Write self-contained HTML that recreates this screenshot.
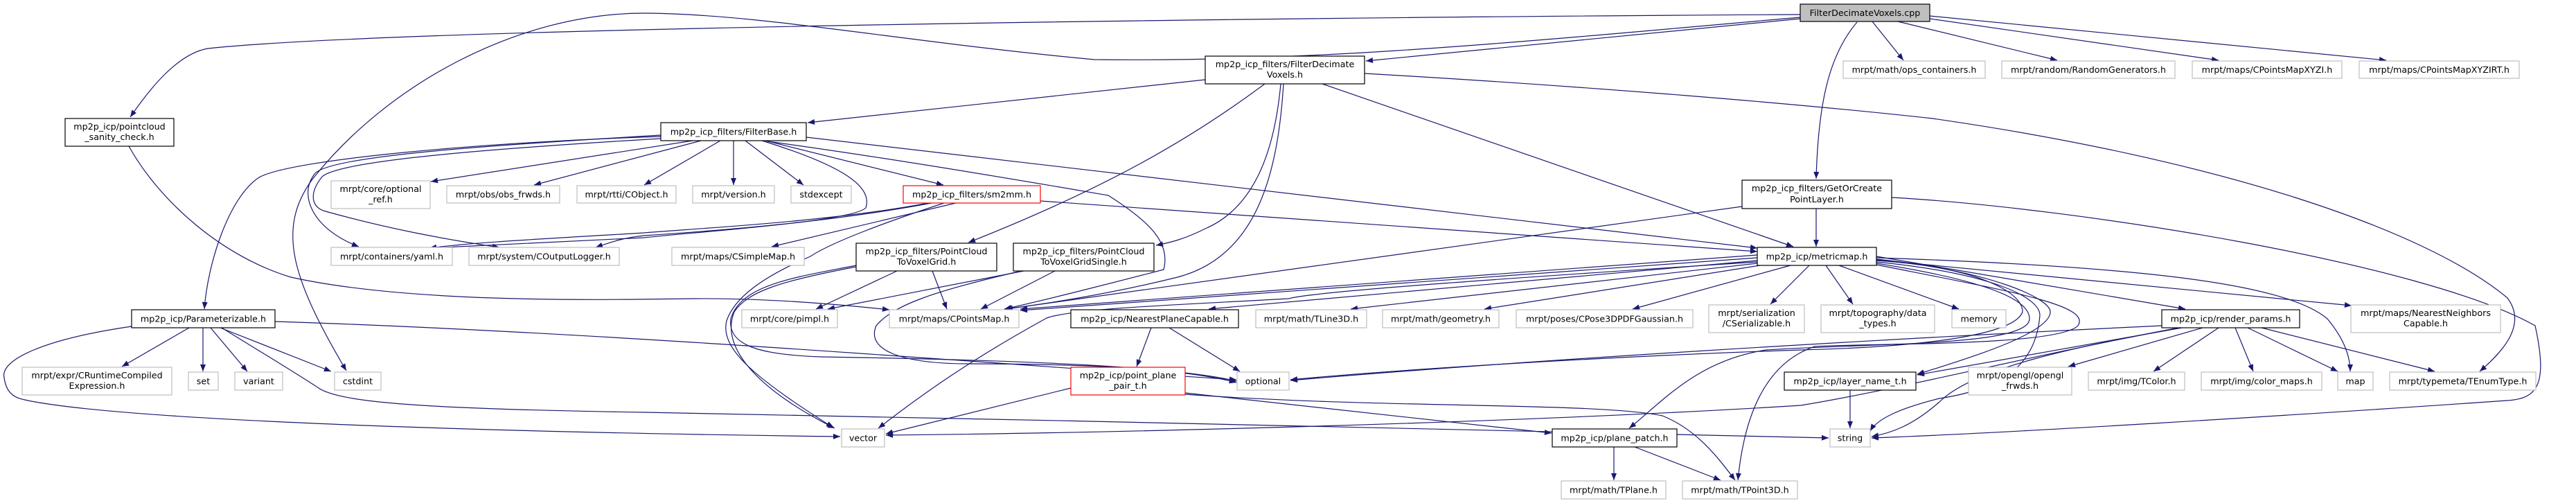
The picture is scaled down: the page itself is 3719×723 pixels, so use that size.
<!DOCTYPE html>
<html><head><meta charset="utf-8"><style>
html,body{margin:0;padding:0;background:#fff;}
svg{display:block;}
text{font-family:"DejaVu Sans","Liberation Sans",sans-serif;font-size:12.7px;fill:#000;text-anchor:middle;}
.e{fill:none;stroke:#191970;stroke-width:1.2;marker-end:url(#a);}
.k{fill:#fff;stroke:#000;stroke-width:1.2;}
.g{fill:#fff;stroke:#bfbfbf;stroke-width:1.2;}
.r{fill:#fff;stroke:#ff0000;stroke-width:1.2;}
</style></head><body>
<svg width="3719" height="723" viewBox="0 0 3719 723" xmlns="http://www.w3.org/2000/svg">
<defs><marker id="a" viewBox="0 0 10 8" refX="10" refY="4" markerWidth="11" markerHeight="8" markerUnits="userSpaceOnUse" orient="auto"><path d="M0,0 L10,4 L0,8 z" fill="#191970"/></marker></defs>

<!-- edges from cpp -->
<path class="e" d="M2599,21 C2000,24 600,38 300,70 C255,78 215,130 188,169"/>
<path class="e" d="M2599,27 L1972,88"/>
<path class="e" d="M2599,25 C2200,60 1900,90 1580,86 C1300,60 1100,20 930,19 C750,19 560,120 450,260 C400,330 420,400 500,535"/>
<path class="e" d="M2681,32 C2640,80 2625,150 2622,258"/>
<path class="e" d="M2703,31 L2748,87"/>
<path class="e" d="M2740,31 L2970,87"/>
<path class="e" d="M2786,27 L3203,87"/>
<path class="e" d="M2786,23 L3445,87"/>

<!-- FilterDecimateVoxels.h -->
<path class="e" d="M1740,115 L1166,177"/>
<path class="e" d="M1909,121 L2589,356"/>
<path class="e" d="M1826,121 C1720,200 1600,270 1398,350"/>
<path class="e" d="M1849,121 C1840,220 1810,300 1740,330 C1710,345 1690,350 1669,354"/>
<path class="e" d="M1853,121 C1845,250 1815,370 1700,400 C1600,425 1500,440 1450,446"/>
<path class="e" d="M1970,106 C2300,125 2600,150 2790,171 C3200,230 3500,330 3620,430 C3650,470 3610,510 3580,536"/>

<!-- FilterBase -->
<path class="e" d="M954,197 C700,205 420,230 374,256 C330,285 300,380 295,446"/>
<path class="e" d="M954,195 C700,210 480,225 455,250 C430,280 450,330 518,356"/>
<path class="e" d="M954,200 C700,215 490,232 465,255 C445,280 450,300 470,305 C560,330 640,345 721,357"/>
<path class="e" d="M1000,203 L622,262"/>
<path class="e" d="M1012,203 L771,267"/>
<path class="e" d="M1040,203 L930,267"/>
<path class="e" d="M1059,203 L1059,267"/>
<path class="e" d="M1076,203 L1160,267"/>
<path class="e" d="M1105,203 L1362,267"/>
<path class="e" d="M1108,204 C1300,230 1530,270 1600,282 C1660,320 1690,350 1680,389 C1600,410 1500,435 1450,446"/>
<path class="e" d="M1164,198 L2537,358"/>
<path class="e" d="M1100,203 C1220,240 1260,270 1250,300 C1230,320 1000,335 930,343 C800,350 700,355 620,358"/>

<!-- sm2mm -->
<path class="e" d="M1340,293 C1200,320 1000,330 930,336 C780,345 680,350 620,358"/>
<path class="e" d="M1345,293 C1200,320 1050,332 930,340 C900,343 880,350 860,357"/>
<path class="e" d="M1380,293 L1114,356"/>
<path class="e" d="M1363,293 C1280,320 1200,350 1170,370 C1100,400 1060,430 1049,463 C1040,500 1080,540 1203,617"/>
<path class="e" d="M1502,290 L2537,363"/>

<!-- sanity check -->
<path class="e" d="M186,211 C230,290 320,370 420,400 C600,440 900,432 1000,431 C1100,430 1200,438 1284,447"/>

<!-- Parameterizable -->
<path class="e" d="M273,473 L176,529"/>
<path class="e" d="M293,473 L293,536"/>
<path class="e" d="M304,473 L357,536"/>
<path class="e" d="M318,473 L478,536"/>
<path class="e" d="M320,473 C380,510 430,540 460,560 C490,580 600,590 930,595 C1500,605 2300,625 2640,632"/>
<path class="e" d="M397,464 C900,480 1500,530 1785,548"/>
<path class="e" d="M190,471 C60,490 0,520 6,545 C10,575 30,575 40,578 C200,610 800,625 1213,630"/>

<!-- PointCloudToVoxelGrid -->
<path class="e" d="M1295,391 L1178,446"/>
<path class="e" d="M1346,391 L1367,446"/>
<path class="e" d="M1236,383 C1150,400 1070,410 1055,460 C1050,500 1100,512 1186,515 C1500,520 1700,530 1785,550"/>
<path class="e" d="M1236,385 C1130,405 1080,420 1060,450 C1040,500 1090,560 1205,618"/>

<!-- PointCloudToVoxelGridSingle -->
<path class="e" d="M1478,391 L1195,446"/>
<path class="e" d="M1523,391 L1416,446"/>
<path class="e" d="M1470,392 C1350,420 1290,440 1265,470 C1250,505 1300,525 1400,525 C1600,525 1720,535 1785,552"/>

<!-- GetOrCreatePointLayer -->
<path class="e" d="M2622,301 L2622,356"/>
<path class="e" d="M2515,298 L1452,446"/>
<path class="e" d="M2731,285 C3000,300 3500,380 3660,470 C3680,560 3660,575 3620,578 C3300,600 2900,625 2702,632"/>

<!-- metricmap -->
<path class="e" d="M2537,368 L1473,446"/>
<path class="e" d="M2537,372 L1473,448"/>
<path class="e" d="M2537,378 C2200,400 1900,420 1860,431 C1700,440 1550,445 1511,459 C1400,520 1330,570 1268,618"/>
<path class="e" d="M2537,376 L1745,446"/>
<path class="e" d="M2537,380 L1950,446"/>
<path class="e" d="M2541,383 L2143,446"/>
<path class="e" d="M2585,383 L2357,446"/>
<path class="e" d="M2612,383 L2556,439"/>
<path class="e" d="M2636,383 L2675,439"/>
<path class="e" d="M2655,383 L2828,446"/>
<path class="e" d="M2709,370 L3155,446"/>
<path class="e" d="M2709,375 L3395,441"/>
<path class="e" d="M2709,372 C3100,385 3300,410 3360,460 C3385,490 3393,515 3393,536"/>
<path class="e" d="M2709,376 C2850,385 2920,420 2920,450 C2910,480 2800,500 2600,505 C2300,515 2000,535 1863,548"/>
<path class="e" d="M2709,378 C2880,395 2945,430 2945,455 C2940,520 2900,560 2800,575 C2740,590 2710,605 2700,622"/>
<path class="e" d="M2709,374 C2870,390 2960,430 2960,450 C2960,480 2850,515 2768,540"/>
<path class="e" d="M2709,380 C2900,410 2930,440 2930,460 C2930,500 2700,495 2550,505 C2450,520 2400,580 2352,618"/>
<path class="e" d="M2709,382 C2900,420 3020,440 3000,470 C2970,500 2700,495 2620,500 C2560,520 2520,580 2509,693"/>

<!-- NearestPlaneCapable -->
<path class="e" d="M1662,473 L1641,529"/>
<path class="e" d="M1688,473 L1790,536"/>

<!-- point_plane_pair -->
<path class="e" d="M1546,560 L1279,626"/>
<path class="e" d="M1711,567 L2240,625"/>
<path class="e" d="M1711,569 C2000,590 2300,580 2400,600 C2450,620 2480,660 2505,693"/>

<!-- plane_patch -->
<path class="e" d="M2330,645 L2330,693"/>
<path class="e" d="M2360,645 L2484,693"/>

<!-- layer_name -->
<path class="e" d="M2671,563 L2671,618"/>

<!-- render_params -->
<path class="e" d="M3180,473 L2986,529"/>
<path class="e" d="M3203,473 L3109,536"/>
<path class="e" d="M3227,473 L3253,536"/>
<path class="e" d="M3245,473 L3375,536"/>
<path class="e" d="M3265,473 L3515,536"/>
<path class="e" d="M3121,470 C2700,490 2200,520 1863,549"/>
<path class="e" d="M3150,473 L2768,541"/>
<path class="e" d="M3148,473 C3000,500 2850,530 2800,580 C2760,615 2730,625 2702,630"/>
<path class="e" d="M3145,473 C2900,520 2750,560 2600,585 C2200,610 1600,625 1279,628"/>

<!-- nodes -->
<rect x="2599" y="6" width="187" height="25" fill="#bfbfbf" stroke="#000" stroke-width="1.2"/><text x="2692.5" y="23">FilterDecimateVoxels.cpp</text>
<rect class="k" x="1740" y="81" width="230" height="40"/><text x="1855" y="97">mp2p_icp_filters/FilterDecimate</text><text x="1855" y="112">Voxels.h</text>
<rect class="g" x="2661" y="88" width="205" height="25"/><text x="2763.5" y="105">mrpt/math/ops_containers.h</text>
<rect class="g" x="2890" y="88" width="250" height="25"/><text x="3015" y="105">mrpt/random/RandomGenerators.h</text>
<rect class="g" x="3165" y="88" width="216" height="25"/><text x="3273" y="105">mrpt/maps/CPointsMapXYZI.h</text>
<rect class="g" x="3406" y="88" width="231" height="25"/><text x="3521.5" y="105">mrpt/maps/CPointsMapXYZIRT.h</text>
<rect class="k" x="94" y="171" width="157" height="40"/><text x="172.5" y="187">mp2p_icp/pointcloud</text><text x="172.5" y="202">_sanity_check.h</text>
<rect class="k" x="954" y="177" width="210" height="26"/><text x="1059" y="194.5">mp2p_icp_filters/FilterBase.h</text>
<rect class="g" x="478" y="261" width="143" height="40"/><text x="549.5" y="277">mrpt/core/optional</text><text x="549.5" y="292">_ref.h</text>
<rect class="g" x="645" y="268" width="163" height="25"/><text x="726.5" y="285">mrpt/obs/obs_frwds.h</text>
<rect class="g" x="833" y="268" width="143" height="25"/><text x="904.5" y="285">mrpt/rtti/CObject.h</text>
<rect class="g" x="1000" y="268" width="118" height="25"/><text x="1059" y="285">mrpt/version.h</text>
<rect class="g" x="1142" y="268" width="87" height="25"/><text x="1185.5" y="285">stdexcept</text>
<rect class="r" x="1304" y="268" width="198" height="25"/><text x="1403" y="285">mp2p_icp_filters/sm2mm.h</text>
<rect class="k" x="2515" y="260" width="216" height="41"/><text x="2623" y="276">mp2p_icp_filters/GetOrCreate</text><text x="2623" y="292">PointLayer.h</text>
<rect class="g" x="478" y="357" width="175" height="26"/><text x="565.5" y="374.5">mrpt/containers/yaml.h</text>
<rect class="g" x="677" y="357" width="217" height="26"/><text x="785.5" y="374.5">mrpt/system/COutputLogger.h</text>
<rect class="g" x="970" y="357" width="191" height="26"/><text x="1065.5" y="374.5">mrpt/maps/CSimpleMap.h</text>
<rect class="k" x="1236" y="351" width="203" height="40"/><text x="1337.5" y="367">mp2p_icp_filters/PointCloud</text><text x="1337.5" y="382">ToVoxelGrid.h</text>
<rect class="k" x="1463" y="351" width="203" height="40"/><text x="1564.5" y="367">mp2p_icp_filters/PointCloud</text><text x="1564.5" y="382">ToVoxelGridSingle.h</text>
<rect class="k" x="2537" y="357" width="172" height="26"/><text x="2623" y="374.5">mp2p_icp/metricmap.h</text>
<rect class="k" x="190" y="447" width="207" height="26"/><text x="293.5" y="464.5">mp2p_icp/Parameterizable.h</text>
<rect class="g" x="1071" y="447" width="138" height="26"/><text x="1140" y="464.5">mrpt/core/pimpl.h</text>
<rect class="g" x="1284" y="447" width="187" height="26"/><text x="1377.5" y="464.5">mrpt/maps/CPointsMap.h</text>
<rect class="k" x="1546" y="447" width="242" height="26"/><text x="1667" y="464.5">mp2p_icp/NearestPlaneCapable.h</text>
<rect class="g" x="1813" y="447" width="160" height="26"/><text x="1893" y="464.5">mrpt/math/TLine3D.h</text>
<rect class="g" x="1996" y="447" width="168" height="26"/><text x="2080" y="464.5">mrpt/math/geometry.h</text>
<rect class="g" x="2189" y="447" width="255" height="26"/><text x="2316.5" y="464.5">mrpt/poses/CPose3DPDFGaussian.h</text>
<rect class="g" x="2467" y="440" width="138" height="40"/><text x="2536" y="456">mrpt/serialization</text><text x="2536" y="471">/CSerializable.h</text>
<rect class="g" x="2629" y="440" width="164" height="40"/><text x="2711" y="456">mrpt/topography/data</text><text x="2711" y="471">_types.h</text>
<rect class="g" x="2818" y="447" width="78" height="26"/><text x="2857" y="464.5">memory</text>
<rect class="k" x="3121" y="447" width="199" height="26"/><text x="3220.5" y="464.5">mp2p_icp/render_params.h</text>
<rect class="g" x="3394" y="440" width="216" height="40"/><text x="3502" y="456">mrpt/maps/NearestNeighbors</text><text x="3502" y="471">Capable.h</text>
<rect class="g" x="32" y="530" width="216" height="40"/><text x="140" y="546">mrpt/expr/CRuntimeCompiled</text><text x="140" y="561">Expression.h</text>
<rect class="g" x="272" y="537" width="43" height="26"/><text x="293.5" y="554.5">set</text>
<rect class="g" x="339" y="537" width="69" height="26"/><text x="373.5" y="554.5">variant</text>
<rect class="g" x="483" y="537" width="67" height="26"/><text x="516.5" y="554.5">cstdint</text>
<rect class="r" x="1546" y="530" width="165" height="40"/><text x="1628.5" y="546">mp2p_icp/point_plane</text><text x="1628.5" y="561">_pair_t.h</text>
<rect class="g" x="1786" y="537" width="75" height="26"/><text x="1823.5" y="554.5">optional</text>
<rect class="g" x="2842" y="530" width="149" height="40"/><text x="2916.5" y="546">mrpt/opengl/opengl</text><text x="2916.5" y="561">_frwds.h</text>
<rect class="k" x="2576" y="537" width="190" height="26"/><text x="2671" y="554.5">mp2p_icp/layer_name_t.h</text>
<rect class="g" x="3015" y="537" width="139" height="26"/><text x="3084.5" y="554.5">mrpt/img/TColor.h</text>
<rect class="g" x="3178" y="537" width="174" height="26"/><text x="3265" y="554.5">mrpt/img/color_maps.h</text>
<rect class="g" x="3375" y="537" width="51" height="26"/><text x="3400.5" y="554.5">map</text>
<rect class="g" x="3450" y="537" width="211" height="26"/><text x="3555.5" y="554.5">mrpt/typemeta/TEnumType.h</text>
<rect class="g" x="1215" y="619" width="62" height="26"/><text x="1246" y="636.5">vector</text>
<rect class="k" x="2241" y="619" width="180" height="26"/><text x="2331" y="636.5">mp2p_icp/plane_patch.h</text>
<rect class="g" x="2642" y="619" width="58" height="26"/><text x="2671" y="636.5">string</text>
<rect class="g" x="2254" y="694" width="151" height="26"/><text x="2329.5" y="711.5">mrpt/math/TPlane.h</text>
<rect class="g" x="2429" y="694" width="166" height="26"/><text x="2512" y="711.5">mrpt/math/TPoint3D.h</text>
</svg>
</body></html>
